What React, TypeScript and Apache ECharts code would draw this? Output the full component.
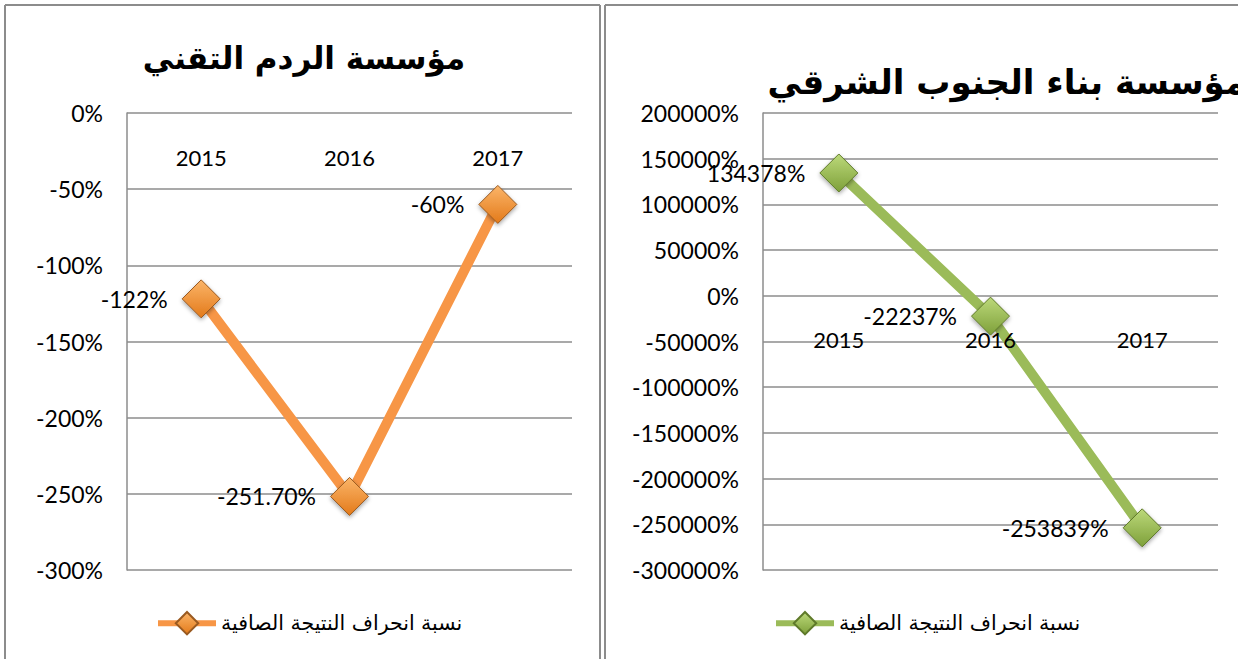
import React, { useEffect, useRef } from "react";
import * as echarts from "echarts";

const categories = ["2015", "2016", "2017"];
const leftValues = [-122, -251.7, -60];
const leftLabels = ["-122%", "-251.70%", "-60%"];
const rightValues = [134378, -22237, -253839];
const rightLabels = ["134378%", "-22237%", "-253839%"];
const leftTitle = "مؤسسة الردم التقني";
const rightTitle = "مؤسسة بناء الجنوب الشرقي";
const legendText = "نسبة انحراف النتيجة الصافية";
const leftMin = -300;
const leftMax = 0;
const leftInterval = 50;
const rightMin = -300000;
const rightMax = 200000;
const rightInterval = 50000;

const latin = "Lato, 'Open Sans', sans-serif";
const arabic = "'DejaVu Sans', sans-serif";
const gridColor = "#8c8c8c";
const GRID_H = 457;

const grad = (c1: string, c2: string) => ({
  type: "linear",
  x: 0,
  y: 0,
  x2: 0,
  y2: 1,
  colorStops: [
    { offset: 0, color: c1 },
    { offset: 1, color: c2 },
  ],
});

export default function App() {
  const ref = useRef<HTMLDivElement>(null);
  useEffect(() => {
    if (!ref.current) return;
    const chart = echarts.init(ref.current, undefined, { renderer: "svg" });
    // category axis sits on the zero line: shift it down from the top of the grid by the scale position of 0
    const zeroOffset = (min: number, max: number) => -((max - 0) / (max - min)) * GRID_H;
    const xAxisBase = (gridIndex: number, min: number, max: number) => ({
      gridIndex,
      type: "category",
      data: categories,
      boundaryGap: true,
      position: "top",
      offset: zeroOffset(min, max),
      z: 5,
      axisLine: { show: false, onZero: false },
      axisTick: { show: false },
      axisLabel: { inside: true, margin: 33, fontSize: 22, fontFamily: latin, color: "#000" },
      splitLine: { show: false },
    });
    const yAxisBase = (gridIndex: number, min: number, max: number, interval: number) => ({
      gridIndex,
      type: "value",
      min,
      max,
      interval,
      axisLine: { show: true, lineStyle: { color: gridColor, width: 1.5 } },
      axisTick: { show: false },
      axisLabel: {
        margin: 24,
        fontSize: 23,
        fontFamily: latin,
        color: "#000",
        formatter: (v: number) => `${v}%`,
      },
      splitLine: { show: true, lineStyle: { color: gridColor, width: 1.5 } },
    });
    const series = (
      name: string,
      idx: number,
      data: number[],
      labels: string[],
      lineColor: string,
      g: any,
      border: string
    ) => ({
      type: "line",
      name,
      xAxisIndex: idx,
      yAxisIndex: idx,
      data,
      symbol: "diamond",
      symbolSize: 38,
      lineStyle: { color: lineColor, width: 10 },
      itemStyle: {
        color: g,
        borderColor: border,
        borderWidth: 1,
        shadowBlur: 4,
        shadowOffsetY: 2,
        shadowColor: "rgba(0,0,0,0.35)",
      },
      label: {
        show: true,
        position: "left",
        distance: 14,
        fontSize: 23,
        fontFamily: latin,
        color: "#000",
        formatter: (p: any) => labels[p.dataIndex],
      },
    });
    const border = (x1: number, y1: number, x2: number, y2: number) => ({
      type: "line",
      shape: { x1, y1, x2, y2 },
      style: { stroke: "#8c8c8c", lineWidth: 2 },
      silent: true,
    });
    const legendBase = (name: string, left: number) => ({
      data: [name],
      left,
      top: 606,
      itemWidth: 58,
      itemHeight: 28,
      itemGap: 10,
      selectedMode: false,
      lineStyle: { width: 6 },
      formatter: () => legendText,
      textStyle: { fontSize: 20.5, fontFamily: arabic, color: "#000" },
    });
    chart.setOption({
      animation: false,
      backgroundColor: "#fff",
      grid: [
        { left: 127, top: 113, width: 445, height: GRID_H },
        { left: 763, top: 113, width: 455, height: GRID_H },
      ],
      xAxis: [xAxisBase(0, leftMin, leftMax), xAxisBase(1, rightMin, rightMax)],
      yAxis: [
        yAxisBase(0, leftMin, leftMax, leftInterval),
        yAxisBase(1, rightMin, rightMax, rightInterval),
      ],
      legend: [legendBase("left", 150), legendBase("right", 768)],
      series: [
        series("left", 0, leftValues, leftLabels, "#F79646", grad("#FBB569", "#E37A1A"), "#9a5a20"),
        series("right", 1, rightValues, rightLabels, "#9BBB59", grad("#BCD97A", "#7EA03A"), "#5f7a2a"),
      ],
      graphic: [
        border(5, 5, 5, 700),
        border(5, 5, 600, 5),
        border(600, 5, 600, 700),
        border(605, 5, 605, 700),
        border(605, 5, 1245, 5),
        {
          type: "text",
          x: 304,
          y: 58,
          silent: true,
          style: {
            text: leftTitle,
            fontSize: 31,
            fontWeight: "bold",
            fontFamily: arabic,
            fill: "#000",
            align: "center",
            verticalAlign: "middle",
          },
        },
        {
          type: "text",
          x: 1246,
          y: 82,
          silent: true,
          style: {
            text: rightTitle,
            fontSize: 34,
            fontWeight: "bold",
            fontFamily: arabic,
            fill: "#000",
            align: "right",
            verticalAlign: "middle",
          },
        },
      ],
    });
    return () => chart.dispose();
  }, []);
  return (
    <div
      ref={ref}
      style={{ position: "fixed", left: 0, top: 0, width: 1238, height: 659, background: "#fff" }}
    />
  );
}
